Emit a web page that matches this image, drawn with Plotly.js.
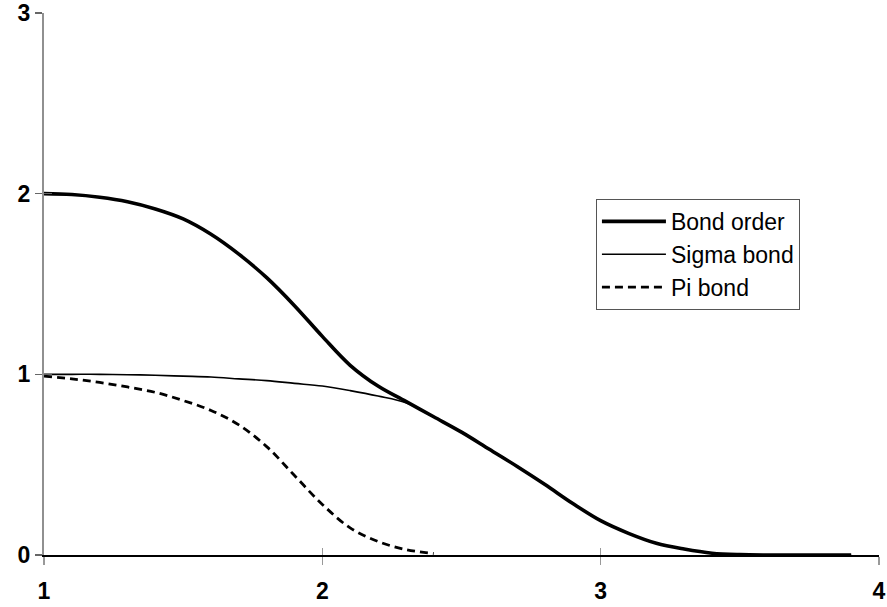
<!DOCTYPE html>
<html>
<head>
<meta charset="utf-8">
<script src="https://cdn.plot.ly/plotly-3.0.1.min.js"></script>
<style>html,body{margin:0;padding:0;background:#fff;}#chart{width:887px;height:607px;}</style>
</head>
<body>
<div id="chart"></div>
<script>
const xVals = [1.0,1.1,1.2,1.3,1.4,1.5,1.6,1.7,1.8,1.9,2.0,2.1,2.2,2.3,2.4,2.5,2.6,2.7,2.8,2.9,3.0,3.1,3.2,3.3,3.4,3.5,3.6,3.7,3.8,3.9];
const bondOrder = [2.00,1.995,1.98,1.955,1.915,1.86,1.775,1.665,1.535,1.38,1.21,1.05,0.935,0.85,0.765,0.68,0.585,0.49,0.39,0.285,0.19,0.12,0.065,0.033,0.01,0.002,0,0,0,0];
const sigmaBond = [1.00,1.00,1.00,0.998,0.995,0.99,0.985,0.975,0.965,0.95,0.935,0.91,0.88,0.843,0.765,0.68,0.585,0.49,0.39,0.285,0.19,0.12,0.065,0.033,0.01,0.002,0,0,0,0];
const piX = [1.0,1.1,1.2,1.3,1.4,1.5,1.6,1.7,1.8,1.9,2.0,2.1,2.2,2.3,2.4];
const piBond = [0.99,0.975,0.955,0.93,0.90,0.855,0.80,0.72,0.60,0.44,0.28,0.15,0.075,0.03,0.008];
const xTicks = [1,2,3,4];
const yTicks = [0,1,2,3];

const traces = [
  {x: xVals, y: bondOrder, name: 'Bond order', type: 'scatter', mode: 'lines',
   line: {color: '#000', width: 3.6, shape: 'spline', smoothing: 1}},
  {x: xVals, y: sigmaBond, name: 'Sigma bond', type: 'scatter', mode: 'lines',
   line: {color: '#000', width: 1.6, shape: 'spline', smoothing: 1}},
  {x: piX, y: piBond, name: 'Pi bond', type: 'scatter', mode: 'lines',
   line: {color: '#000', width: 2.8, dash: '8px,5px', shape: 'spline', smoothing: 1}},
  {x: [], y: [], xaxis: 'x2', yaxis: 'y2', showlegend: false, hoverinfo: 'skip', type: 'scatter', mode: 'lines'}
];

const tickFont = {family: 'Liberation Sans, Arial, sans-serif', size: 23, color: '#000', weight: 'bold'};

const layout = {
  width: 887, height: 607,
  margin: {l: 44, r: 8, t: 13, b: 52},
  paper_bgcolor: '#fff', plot_bgcolor: '#fff',
  showlegend: true,
  xaxis: {range: [1, 4], tickvals: xTicks, ticktext: xTicks.map(String), showgrid: false, zeroline: false,
    showline: true, linecolor: '#000', linewidth: 2, ticks: 'outside', ticklen: 8, tickwidth: 1.5, tickcolor: '#999',
    tickfont: tickFont, ticklabelstandoff: 6, automargin: false, fixedrange: true},
  yaxis: {range: [0, 3], tickvals: yTicks, ticktext: yTicks.map(String), showgrid: false, zeroline: false,
    showline: true, linecolor: '#909090', linewidth: 2, ticks: 'outside', ticklen: 7, tickwidth: 1.5, tickcolor: '#666',
    tickfont: tickFont, ticklabelstandoff: 0, automargin: false, fixedrange: true},
  xaxis2: {overlaying: 'x', range: [1, 4], tickvals: xTicks, showticklabels: false, showgrid: false, zeroline: false,
    showline: false, ticks: 'inside', ticklen: 7, tickwidth: 1.5, tickcolor: '#999', side: 'bottom', anchor: 'y2', fixedrange: true},
  yaxis2: {overlaying: 'y', range: [0, 3], tickvals: yTicks, showticklabels: false, showgrid: false, zeroline: false,
    showline: false, ticks: 'inside', ticklen: 8, tickwidth: 1.5, tickcolor: '#666', side: 'left', anchor: 'x2', fixedrange: true},
  legend: {x: 0.661, y: 0.657, xanchor: 'left', yanchor: 'top', bgcolor: '#fff', bordercolor: '#555', borderwidth: 1,
    font: {family: 'Liberation Sans, Arial, sans-serif', size: 23, color: '#000'}, itemwidth: 64, tracegroupgap: 0}
};

Plotly.newPlot('chart', traces, layout, {displayModeBar: false, staticPlot: true});
</script>
</body>
</html>
